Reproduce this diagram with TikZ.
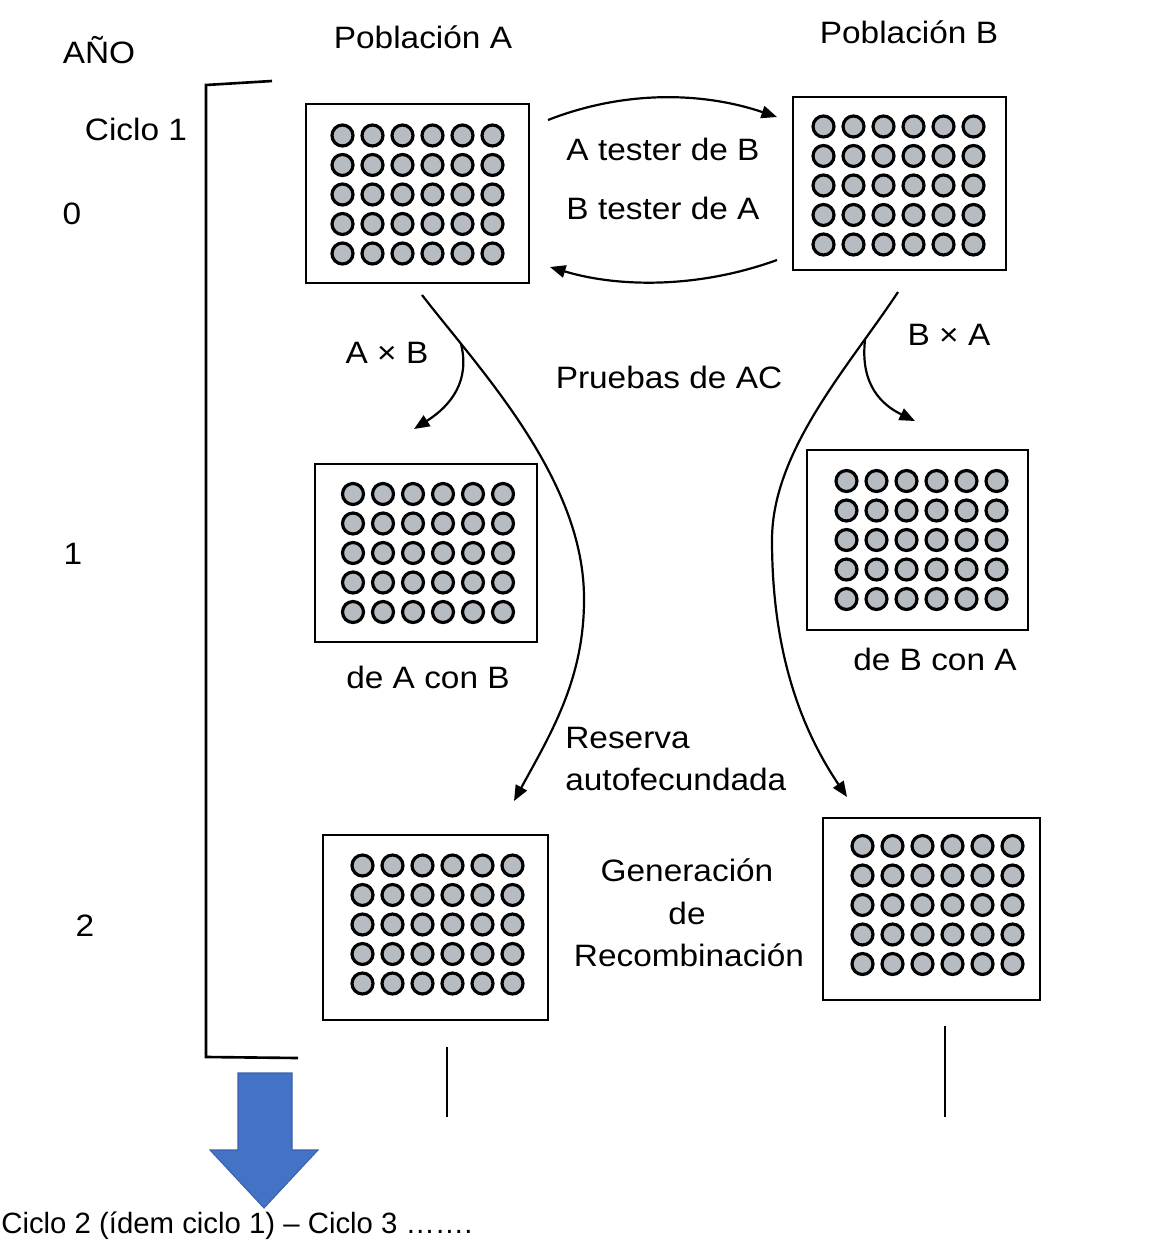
\documentclass[tikz,border=0pt]{standalone}
\usepackage{fontspec}
\setmainfont{Liberation Sans}
\newfontfamily\scanfont[FakeStretch=1.08]{Liberation Sans}
\usetikzlibrary{arrows.meta,calc}
\definecolor{wellfill}{RGB}{182,188,194}
\definecolor{bigblue}{RGB}{68,114,196}
\definecolor{bigblueedge}{RGB}{58,98,172}
\newcommand\wellgrid[3]{%
  \foreach \i in {0,...,5}{%
    \foreach \j in {0,...,4}{%
      \draw[well] ($(#1.center)+({-75+30*\i+#2},{-59+29.5*\j+#3})$) circle[radius=0.21cm];
    }%
  }%
}
\begin{document}
\begin{tikzpicture}[x=0.02cm,y=-0.02cm,
  plate/.style={draw,line width=1.5pt,rectangle,inner sep=0pt},
  well/.style={draw,line width=1.8pt,fill=wellfill},
  lbl/.style={font=\scanfont\fontsize{17.6}{20}\selectfont,inner sep=0pt,anchor=base},
  lblw/.style={lbl,anchor=base west},
  flow/.style={line width=1.25pt,-{Triangle[length=0.31cm,width=0.25cm]}},
  plain/.style={line width=1.5pt},
  ]
\useasboundingbox (0,0) rectangle (1172,1241);
\fill[white] (0,0) rectangle (1172,1241);

% headings
\node[lbl] (ano) at (99,63) {AÑO};
\node[lbl] (popA) at (423,48) {Población A};
\node[lbl] (popB) at (909,43) {Población B};
\node[lbl] (ciclo) at (136,140) {Ciclo 1};
\node[lbl] (y0) at (72,224) {0};
\node[lbl] (y1) at (73,564) {1};
\node[lbl] (y2) at (85,936) {2};

% bracket
\draw[plain] (272,81) -- (206,85) -- (206,1057) -- (298,1058);

% plates
\node[plate,minimum width=4.46cm,minimum height=3.58cm] (A0) at (417.5,193.5) {};
\node[plate,minimum width=4.26cm,minimum height=3.46cm] (B0) at (899.5,183.5) {};
\node[plate,minimum width=4.44cm,minimum height=3.56cm] (A1) at (426,553) {};
\node[plate,minimum width=4.42cm,minimum height=3.60cm] (B1) at (917.5,540) {};
\node[plate,minimum width=4.50cm,minimum height=3.70cm] (A2) at (435.5,927.5) {};
\node[plate,minimum width=4.34cm,minimum height=3.64cm] (B2) at (931.5,909) {};
\wellgrid{A0}{0}{1}
\wellgrid{B0}{-1}{2}
\wellgrid{A1}{2}{0}
\wellgrid{B1}{4}{0}
\wellgrid{A2}{2}{-3}
\wellgrid{B2}{6}{-4}

% labels
\node[lbl] (tAB) at (663,160) {A tester de B};
\node[lbl] (tBA) at (663,219) {B tester de A};
\node[lbl] (xAB) at (387,363) {A × B};
\node[lbl] (xBA) at (949,345) {B × A};
\node[lbl] (prAC) at (669,388) {Pruebas de AC};
\node[lbl] (dAB) at (428,688) {de A con B};
\node[lbl] (dBA) at (935,670) {de B con A};
\node[lblw] (res1) at (565,748) {Reserva};
\node[lblw] (res2) at (565,790) {autofecundada};
\node[lbl] (gen1) at (687,881) {Generación};
\node[lbl] (gen2) at (687,924) {de};
\node[lbl] (gen3) at (689,966) {Recombinación};

% connector end points
\coordinate (t1s) at (548,120);
\coordinate (t1e) at (777,117);
\coordinate (b1s) at (777,260);
\coordinate (b1e) at (550,267);
\coordinate (aS) at (422,295);
\coordinate (aM) at (584,600);
\coordinate (aE) at (514,801);
\coordinate (aBr) at (461,344);
\coordinate (aBe) at (414,429);
\coordinate (bS) at (898,292);
\coordinate (bM) at (772,540);
\coordinate (bE) at (847,797);
\coordinate (bBr) at (865,340);
\coordinate (bBe) at (915,421);
\coordinate (vA1) at (447,1047);
\coordinate (vA2) at (447,1117);
\coordinate (vB1) at (945,1026);
\coordinate (vB2) at (945,1117);

% connectors
\draw[flow] (t1s) .. controls (622,91) and (700,91) .. (t1e);
\draw[flow] (b1s) .. controls (700,288) and (620,288) .. (b1e);
\draw[flow] (aS) .. controls (480,370) and (585,480) .. (aM) .. controls (584,680) and (550,735) .. (aE);
\draw[flow] (aBr) .. controls (470,380) and (452,405) .. (aBe);
\draw[flow] (bS) .. controls (850,365) and (772,450) .. (bM) .. controls (772,640) and (795,720) .. (bE);
\draw[flow] (bBr) .. controls (860,385) and (882,405) .. (bBe);
\draw[plain] (vA1) -- (vA2);
\draw[plain] (vB1) -- (vB2);

% big blue arrow
\filldraw[fill=bigblue,draw=bigblueedge,line width=0.6pt]
  (238,1073) -- (292,1073) -- (292,1150) -- (318,1150) -- (264,1208)
  -- (210,1150) -- (238,1150) -- cycle;
\node[font=\fontsize{16.7}{19}\selectfont,inner sep=0pt,anchor=base west] (foot) at (1,1233)
  {Ciclo 2 (ídem ciclo 1) – Ciclo 3 …….};
\end{tikzpicture}
\end{document}
